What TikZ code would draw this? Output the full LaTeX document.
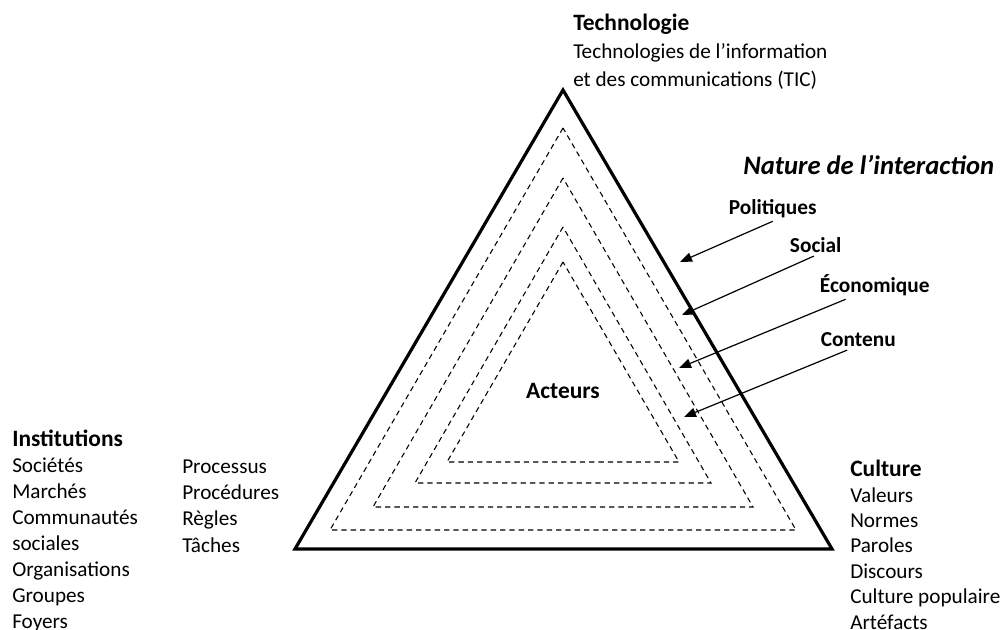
\documentclass[tikz,border=0pt]{standalone}
\usepackage{fontspec}
\setmainfont{Carlito}
\usetikzlibrary{arrows.meta}

\newcommand{\grandtitre}[1]{{\fontsize{17.6}{19.5}\selectfont\bfseries #1}}

\begin{document}
\begin{tikzpicture}[x=0.75pt, y=-0.75pt,
  every node/.style={font=\fontsize{15.9}{19.4}\selectfont, inner sep=0pt},
  liste/.style={align=left, anchor=base west},
  niveau/.style={font=\fontsize{16}{19.5}\selectfont\bfseries, inner sep=2pt, anchor=base west},
  fleche/.style={-{Triangle[length=9pt,width=7pt]}, line width=0.9pt},
  pointille/.style={dash pattern=on 4pt off 3pt, line width=0.8pt}]

\useasboundingbox (0,0) rectangle (1002,630);

% triangle principal
\draw[line width=2.4pt, line join=miter] (563,90) coordinate (sommet) -- (295,549) coordinate (gauche)
  -- (832,549) coordinate (droite) -- cycle;

% niveaux en pointille
\foreach \haut/\bas/\demi in {128/530/233, 178/507/190, 227/483/148, 262/462/116}
  \draw[pointille] (563,\haut) -- (563-\demi,\bas) -- (563+\demi,\bas) -- cycle;

% sommets (ancre = ligne de base de la derniere ligne)
\node[liste, font=\fontsize{15.9}{21}\selectfont] (techno) at (573,87)
  {\grandtitre{Technologie}\\Technologies de l’information\\et des communications (TIC)};
\node[liste] (institutions) at (12,628)
  {\grandtitre{Institutions}\\Sociétés\\Marchés\\Communautés\\sociales\\Organisations\\Groupes\\Foyers};
\node[liste, font=\fontsize{15.9}{19.6}\selectfont] (processus) at (182,552)
  {Processus\\Procédures\\Règles\\Tâches};
\node[liste, font=\fontsize{15.9}{19.05}\selectfont] (culture) at (850,629)
  {\grandtitre{Culture}\\Valeurs\\Normes\\Paroles\\Discours\\Culture populaire\\Artéfacts};
\node[anchor=base] (acteurs) at (563,398) {\grandtitre{Acteurs}};

% nature de l'interaction
\node[font=\fontsize{20}{24}\selectfont\bfseries\itshape, anchor=base west] (nature) at (743,175)
  {Nature de l’interaction};
\node[niveau] (pol) at (726,215) {Politiques};
\node[niveau] (soc) at (787,253) {Social};
\node[niveau] (eco) at (817,293) {Économique};
\node[niveau] (con) at (818,347) {Contenu};

\foreach \nom/\x/\y in {pol/680/262, soc/682/315, eco/679/368, con/684/417}
  \coordinate (p\nom) at (\x,\y);

\draw[fleche] (pol.south) -- (ppol);
\draw[fleche] (soc.-100) -- (psoc);
\draw[fleche] (eco.205) -- (peco);
\draw[fleche] (con.222) -- (pcon);
\end{tikzpicture}
\end{document}
